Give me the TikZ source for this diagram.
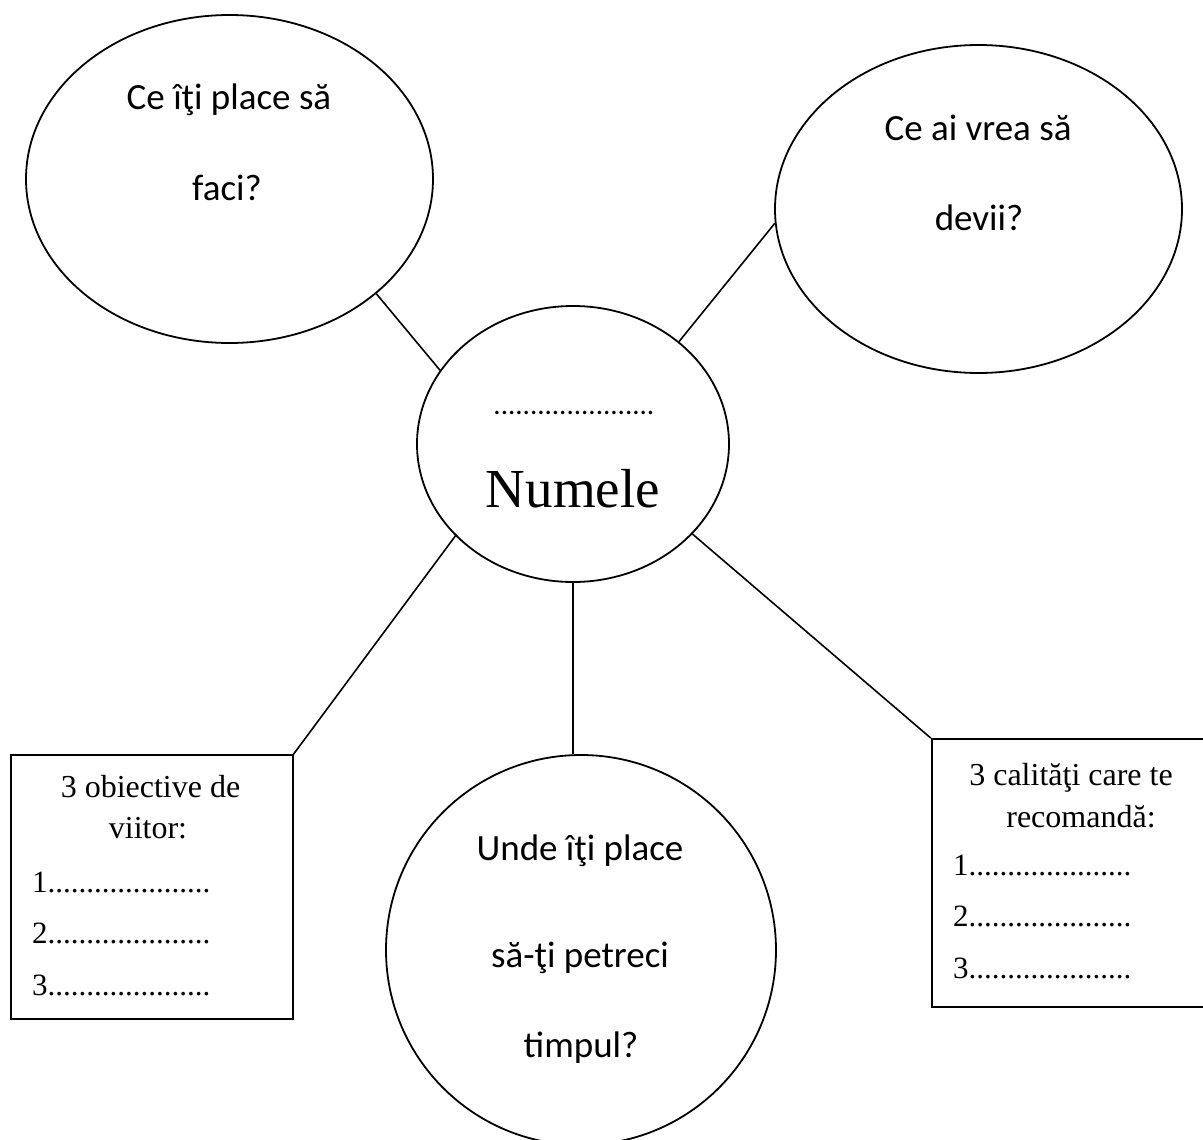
\documentclass[tikz,border=0pt]{standalone}
\usepackage{fontspec}
\setmainfont{Liberation Serif}
\newfontfamily\calfont{Carlito}
\usetikzlibrary{shapes.geometric}
\tikzset{
  shape line/.style={draw=black, line width=1.8pt},
  oval/.style={shape line, ellipse, inner sep=0pt, minimum width=#1},
  boxnode/.style={shape line, rectangle, inner sep=0pt},
  link/.style={draw=black, line width=1.6pt},
  qtext/.style={anchor=base, inner sep=0pt, font=\calfont\fontsize{37}{40}\selectfont},
  btext/.style={anchor=base, inner sep=0pt, font=\fontsize{32}{36}\selectfont},
  ltext/.style={anchor=base west, inner sep=0pt, font=\fontsize{31}{36}\selectfont},
}
\begin{document}
\begin{tikzpicture}[x=1pt, y=-1pt]
\useasboundingbox (0,0) rectangle (1203,1140);
\clip (0,0) rectangle (1203,1140);
% shapes
\node[oval=407pt, minimum height=328pt] (tl) at (229.5,179) {};
\node[oval=407pt, minimum height=328pt] (tr) at (978.5,209) {};
\node[oval=312pt, minimum height=276pt] (ctr) at (573,444) {};
\node[oval=390pt, minimum height=390pt] (bc) at (581,950) {};
\node[boxnode, minimum width=282pt, minimum height=264pt] (lb) at (151.7,887) {};
\node[boxnode, minimum width=280pt, minimum height=268pt] (rb) at (1071.7,873) {};
% connectors
\draw[link] (tl.-38) -- (ctr.151);
\draw[link] (ctr.44) -- (tr.-176);
\draw[link] (ctr.-142) -- (lb.north east);
\draw[link] (ctr.south) -- (ctr.south |- bc.north);
\draw[link] (ctr.-37) -- (rb.north west);
% texts
\node[qtext] (tlA) at (229,110) {Ce îţi place să};
\node[qtext] (tlB) at (227,200) {faci?};
\node[qtext] (trA) at (978,140) {Ce ai vrea să};
\node[qtext] (trB) at (979,230) {devii?};
\node[qtext] (bcA) at (580,860) {Unde îţi place};
\node[qtext] (bcB) at (580,967) {să-ţi petreci};
\node[qtext] (bcC) at (581,1057) {timpul?};
\node[anchor=base, inner sep=0pt, font=\calfont\fontsize{29}{32}\selectfont] (dots) at (574,414) {......................};
\node[anchor=base, inner sep=0pt, font=\fontsize{55}{60}\selectfont] (name) at (573,507) {Numele};
\node[btext] (lbA) at (150.5,797) {3 obiective de};
\node[btext] (lbB) at (148,838) {viitor:};
\node[ltext] (lb1) at (32,892) {1.....................};
\node[ltext] (lb2) at (32,943) {2.....................};
\node[ltext] (lb3) at (32,995) {3.....................};
\node[btext] (rbA) at (1071,785) {3 calităţi care te};
\node[btext] (rbB) at (1081,827) {recomandă:};
\node[ltext] (rb1) at (953,875) {1.....................};
\node[ltext] (rb2) at (953,926) {2.....................};
\node[ltext] (rb3) at (953,978) {3.....................};
\end{tikzpicture}
\end{document}
